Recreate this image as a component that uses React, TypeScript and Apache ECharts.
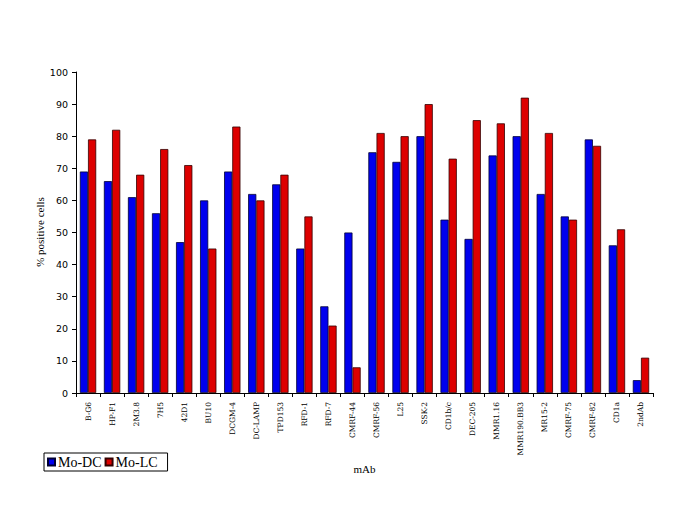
import React, { useEffect, useRef } from "react";
import * as echarts from "echarts";

const categories = [
  "B-G6", "HP-F1", "2M3.8", "7H5", "42D1", "BU10", "DCGM-4", "DC-LAMP", "TPD153", "RFD-1", "RFD-7", "CMRF-44",
  "CMRF-56", "L25", "SSK-2", "CD1b/c", "DEC-205", "MMR1.16", "MMR190.BB3", "MR15-2", "CMRF-75", "CMRF-82", "CD1a", "2ndAb",
];
const moDC = [69, 66, 61, 56, 47, 60, 69, 62, 65, 45, 27, 50, 75, 72, 80, 54, 48, 74, 80, 62, 55, 79, 46, 4];
const moLC = [79, 82, 68, 76, 71, 45, 83, 60, 68, 55, 21, 8, 81, 80, 90, 73, 85, 84, 92, 81, 54, 77, 51, 11];
const yTicks = { min: 0, max: 100, interval: 10 };
const yTitle = "% positive cells";

export default function App() {
  const ref = useRef<HTMLDivElement>(null);
  useEffect(() => {
    const chart = echarts.init(ref.current!, null, { renderer: "svg" });
    chart.setOption({
      animation: false,
      backgroundColor: "#ffffff",
      grid: { left: 76, right: 32, top: 72, bottom: 120 },
      graphic: [
        {
          type: "text",
          x: 40,
          y: 232,
          rotation: Math.PI / 2,
          style: {
            text: yTitle,
            align: "center",
            verticalAlign: "middle",
            fontFamily: "Liberation Serif",
            fontSize: 11,
            fill: "#000",
          },
        },
      ],
      legend: {
        left: 44,
        top: 453,
        orient: "horizontal",
        itemWidth: 7,
        itemHeight: 7,
        itemGap: 3,
        padding: [2, 10, 2, 3],
        borderColor: "#000",
        borderWidth: 1,
        borderRadius: 0,
        icon: "rect",
        textStyle: { fontFamily: "Liberation Serif", fontSize: 14, color: "#000", padding: [0, 0, 0, -2] },
        data: ["Mo-DC", "Mo-LC"],
      },
      xAxis: {
        type: "category",
        data: categories,
        name: "mAb",
        nameLocation: "middle",
        nameGap: 70,
        nameTextStyle: { fontFamily: "Liberation Serif", fontSize: 11, color: "#000" },
        axisLine: { lineStyle: { color: "#000", width: 1 } },
        axisTick: { show: true, alignWithLabel: false, length: 4, lineStyle: { color: "#000" } },
        axisLabel: {
          rotate: 90,
          fontFamily: "DejaVu Serif",
          fontSize: 7.5,
          color: "#000",
          margin: 9,
          interval: 0,
        },
      },
      yAxis: {
        type: "value",
        min: yTicks.min,
        max: yTicks.max,
        interval: yTicks.interval,
        axisLine: { show: true, lineStyle: { color: "#000", width: 1 } },
        axisTick: { show: true, length: 4, lineStyle: { color: "#000" } },
        splitLine: { show: false },
        axisLabel: { fontFamily: "DejaVu Sans", fontSize: 9.5, color: "#000", margin: 8 },
      },
      series: [
        {
          name: "Mo-DC",
          type: "bar",
          data: moDC,
          barGap: "0%",
          barCategoryGap: "32%",
          itemStyle: { color: "#0000ee", borderColor: "#000033", borderWidth: 0.8 },
        },
        {
          name: "Mo-LC",
          type: "bar",
          data: moLC,
          itemStyle: { color: "#dd0000", borderColor: "#330000", borderWidth: 0.8 },
        },
      ],
    });
    return () => chart.dispose();
  }, []);
  return <div ref={ref} style={{ position: "fixed", left: 0, top: 0, width: 685, height: 513 }} />;
}
